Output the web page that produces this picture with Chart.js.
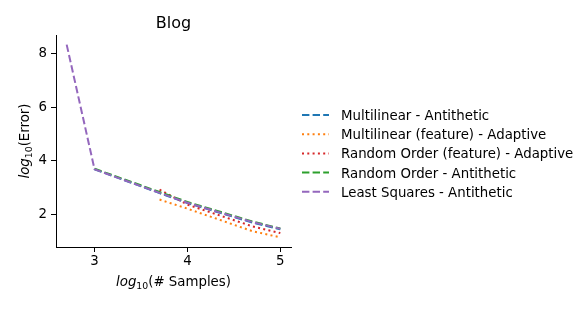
<!DOCTYPE html>
<html>
<head>
<meta charset="utf-8">
<script src="https://cdn.jsdelivr.net/npm/chart.js@4"></script>
<style>
html,body{margin:0;padding:0;background:#fff;}
#wrap{width:581px;height:310px;position:relative;}
</style>
</head>
<body>
<div id="wrap"><canvas id="c" width="581" height="310"></canvas></div>
<script>
const titleText = "Blog";
const xValues = [2.7, 3, 3.7, 4, 4.7, 5];
const seriesNames = [
  "Multilinear - Antithetic",
  "Multilinear (feature) - Adaptive",
  "Random Order (feature) - Adaptive",
  "Random Order - Antithetic",
  "Least Squares - Antithetic"
];
const multilinearAnti = [null, 3.69, 2.80, 2.43, 1.70, 1.45];
const multilinearFeatAdapt = [null, null, 2.56, 2.22, 1.38, 1.15];
const randomFeatAdapt = [null, null, 2.93, 2.37, 1.56, 1.31];
const randomAnti = [null, 3.71, 2.84, 2.47, 1.74, 1.48];
const leastSquaresAnti = [8.34, 3.69, 2.81, 2.44, 1.72, 1.47];
const xTicks = [3, 4, 5];
const yTicks = [2, 4, 6, 8];

const seriesValues = [multilinearAnti, multilinearFeatAdapt, randomFeatAdapt, randomAnti, leastSquaresAnti];
const colors = ["#1f77b4", "#ff7f0e", "#d62728", "#2ca02c", "#9467bd"];
const DASH = [7.4, 3.2];
const DOT = [2, 3.3];
const dashes = [DASH, DOT, DOT, DASH, DASH];

function toPoints(vals){
  const pts = [];
  vals.forEach((v,i)=>{ if(v!==null) pts.push({x:xValues[i], y:v}); });
  return pts;
}

const FONT = '"DejaVu Sans", sans-serif';

const datasets = seriesValues.map((vals,i)=>({
  label: seriesNames[i],
  data: toPoints(vals),
  borderColor: colors[i],
  backgroundColor: colors[i],
  borderWidth: 2,
  borderDash: dashes[i],
  borderCapStyle: 'butt',
  pointRadius: 0,
  tension: 0,
  fill: false,
  order: seriesValues.length - 1 - i
}));

const overlay = {
  id: 'overlay',
  afterDraw(chart){
    const ctx = chart.ctx;
    const ca = chart.chartArea;
    ctx.save();
    ctx.fillStyle = '#000';
    ctx.font = '16px ' + FONT;
    ctx.textAlign = 'center';
    ctx.textBaseline = 'alphabetic';
    ctx.fillText(titleText, (ca.left + ca.right)/2, 28);

    function drawMixed(parts, cx, by){
      let w = 0;
      parts.forEach(p=>{ ctx.font = p.f; p.w = ctx.measureText(p.t).width; w += p.w; });
      let x = cx - w/2;
      ctx.textAlign = 'left';
      parts.forEach(p=>{ ctx.font = p.f; ctx.fillText(p.t, x, by + p.dy); x += p.w; });
    }
    const xParts = [
      {t:'log', f:'italic 13.33px ' + FONT, dy:0},
      {t:'10', f:'9.33px ' + FONT, dy:3},
      {t:'(# Samples)', f:'13.33px ' + FONT, dy:0}
    ];
    drawMixed(xParts, (ca.left + ca.right)/2, 286);

    ctx.save();
    ctx.translate(29, (ca.top + ca.bottom)/2);
    ctx.rotate(-Math.PI/2);
    const yParts = [
      {t:'log', f:'italic 13.33px ' + FONT, dy:0},
      {t:'10', f:'9.33px ' + FONT, dy:3},
      {t:'(Error)', f:'13.33px ' + FONT, dy:0}
    ];
    drawMixed(yParts, 0, 0);
    ctx.restore();

    chart.data.datasets.forEach((ds,i)=>{
      const y = 115 + i*19.2;
      ctx.save();
      ctx.strokeStyle = ds.borderColor;
      ctx.lineWidth = 2;
      ctx.setLineDash(ds.borderDash);
      ctx.lineCap = 'butt';
      ctx.beginPath();
      ctx.moveTo(302, y);
      ctx.lineTo(329, y);
      ctx.stroke();
      ctx.restore();
      ctx.font = '13.33px ' + FONT;
      ctx.textAlign = 'left';
      ctx.textBaseline = 'alphabetic';
      ctx.fillStyle = '#000';
      ctx.fillText(ds.label, 341, y + 5);
    });
    ctx.restore();
  }
};

new Chart(document.getElementById('c'), {
  type: 'line',
  data: { datasets },
  options: {
    responsive: false,
    animation: false,
    devicePixelRatio: 1,
    layout: { padding: { left: 0, right: 290, top: 35, bottom: 0 } },
    plugins: { legend: { display: false }, title: { display: false }, tooltip: { enabled: false } },
    scales: {
      x: {
        type: 'linear',
        min: 2.585, max: 5.115,
        afterBuildTicks(scale){ scale.ticks = xTicks.map(v=>({value:v})); },
        afterFit(scale){ scale.height = 63; },
        grid: { display: true, drawOnChartArea: false, drawTicks: true, tickLength: 5, color: '#000', lineWidth: 1 },
        border: { display: true, color: '#000', width: 1 },
        ticks: { color: '#000', font: { family: FONT, size: 13.33 }, padding: 2, maxRotation: 0, autoSkip: false }
      },
      y: {
        type: 'linear',
        min: 0.79, max: 8.70,
        afterBuildTicks(scale){ scale.ticks = yTicks.map(v=>({value:v})); },
        afterFit(scale){ scale.width = 56; },
        grid: { display: true, drawOnChartArea: false, drawTicks: true, tickLength: 5, color: '#000', lineWidth: 1 },
        border: { display: true, color: '#000', width: 1 },
        ticks: { color: '#000', font: { family: FONT, size: 13.33 }, padding: 4, autoSkip: false }
      }
    }
  },
  plugins: [overlay]
});
</script>
</body>
</html>
